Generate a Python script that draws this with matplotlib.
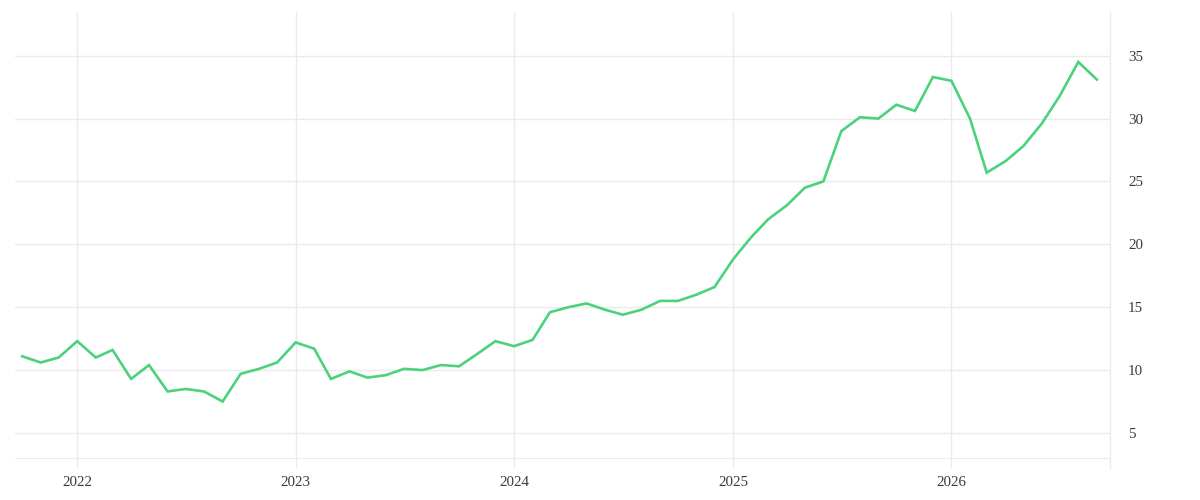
import numpy as np
import pandas as pd
import matplotlib
matplotlib.use("Agg")
import matplotlib.pyplot as plt
import matplotlib.dates as mdates

# monthly values, Oct 2021 .. Sep 2026
months = pd.date_range("2021-10-01", "2026-09-01", freq="MS")
values = [
    11.1, 10.6, 11.0,
    12.3, 11.0, 11.6, 9.3, 10.4, 8.3, 8.5, 8.3, 7.5, 9.7, 10.1, 10.6,
    12.2, 11.7, 9.3, 9.9, 9.4, 9.6, 10.1, 10.0, 10.4, 10.3, 11.3, 12.3,
    11.9, 12.4, 14.6, 15.0, 15.3, 14.8, 14.4, 14.8, 15.5, 15.5, 16.0, 16.6,
    18.8, 20.6, 22.0, 23.1, 24.5, 25.0, 29.0, 30.1, 30.0, 31.1, 30.6, 33.3,
    33.0, 30.0, 25.7, 26.6, 27.8, 29.6, 31.8, 34.5, 33.1,
]
year_ticks = ["2022", "2023", "2024", "2025", "2026"]
y_ticks = [5, 10, 15, 20, 25, 30, 35]

grid_col = "#ebebeb"
line_col = "#4cd27c"
text_col = "#3a3a3a"

fig = plt.figure(figsize=(12, 5), dpi=100)
ax = fig.add_axes([15 / 1200, 42 / 500, 1095 / 1200, 446 / 500])

ax.plot(months, values, color=line_col, linewidth=1.9, solid_joinstyle="miter")

ax.set_xlim(pd.Timestamp("2021-09-19"), pd.Timestamp("2026-09-23"))
ax.set_ylim(3.01, 38.47)

ax.set_xticks([pd.Timestamp(y + "-01-01") for y in year_ticks])
ax.xaxis.set_major_formatter(mdates.DateFormatter("%Y"))
ax.set_yticks(y_ticks)

ax.grid(True, color=grid_col, linewidth=1)
ax.set_axisbelow(True)

for s in ["left", "top"]:
    ax.spines[s].set_visible(False)
ax.spines["bottom"].set_color(grid_col)
ax.spines["right"].set_visible(False)
# right border runs down past the bottom like the tick marks
ax.plot([1, 1], [1, -10 / 446], transform=ax.transAxes, color=grid_col,
        linewidth=1, clip_on=False)

ax.yaxis.tick_right()
ax.tick_params(axis="y", length=0, pad=13, labelsize=10.8, labelcolor=text_col)
ax.tick_params(axis="x", length=7.2, width=1, color=grid_col, pad=6,
               labelsize=10.8, labelcolor=text_col)
for lab in ax.get_xticklabels() + ax.get_yticklabels():
    lab.set_fontfamily("Liberation Serif")

fig.savefig("out.png", dpi=100, facecolor="white")
